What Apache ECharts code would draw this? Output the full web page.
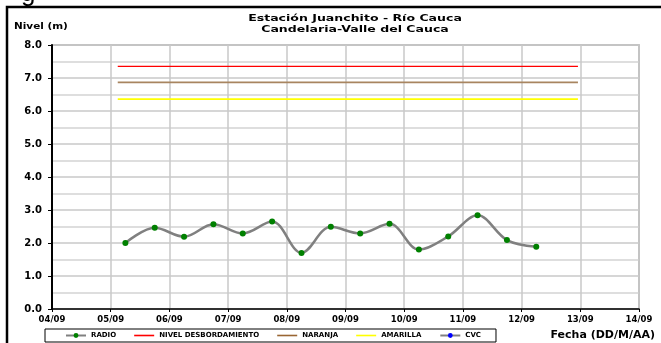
<!DOCTYPE html>
<html><head><meta charset="utf-8">
<script src="https://cdn.jsdelivr.net/npm/echarts@6/dist/echarts.min.js"></script>
<style>html,body{margin:0;padding:0;background:#fff}#c{width:661px;height:343px}</style>
</head><body><div id="c"></div>
<script>
// x positions are day-of-month (September), fractions are time of day
var radioDays = [5.25, 5.75, 6.25, 6.75, 7.25, 7.75, 8.25, 8.75, 9.25, 9.75, 10.25, 10.75, 11.25, 11.75, 12.25];
var radioLevels = [2.0, 2.46, 2.19, 2.57, 2.29, 2.65, 1.70, 2.49, 2.29, 2.58, 1.80, 2.20, 2.84, 2.09, 1.89];
var thresholdSpan = [5.12, 12.96];
var nivelDesbordamiento = 7.35;
var naranja = 6.87;
var amarilla = 6.36;
var cvcDays = [];
var cvcLevels = [];
var xTicksMin = 4, xTicksMax = 14;
var yTicksMin = 0, yTicksMax = 8;
var titleLines = ['Estación Juanchito - Río Cauca', 'Candelaria-Valle del Cauca'];
var legendNames = ['RADIO','NIVEL DESBORDAMIENTO','NARANJA','AMARILLA','CVC'];

function pairs(xs, ys){ return xs.map(function(x,i){ return [x, ys[i]]; }); }
function flat(v){ return thresholdSpan.map(function(x){ return [x, v]; }); }
function pad(n){ n = Math.round(n); return (n<10?'0':'')+n; }

var F = 'DejaVu Sans';
var lineIcon = 'path://M0,0 L20,0 L20,1.6 L0,1.6 Z';
var chart = echarts.init(document.getElementById('c'), null, {renderer:'canvas'});
chart.setOption({
  animation:false,
  backgroundColor:'#fff',
  graphic:[
    {type:'rect', shape:{x:7,y:7,width:700,height:400}, style:{fill:'none', stroke:'#000', lineWidth:2.5}, z:-1},
    {type:'text', x:355, y:14, scaleX:1.32, style:{text:titleLines[0], font:'bold 9.5px "DejaVu Sans"', fill:'#000', textAlign:'center', textVerticalAlign:'top'}},
    {type:'text', x:355, y:25, scaleX:1.32, style:{text:titleLines[1], font:'bold 9.5px "DejaVu Sans"', fill:'#000', textAlign:'center', textVerticalAlign:'top'}},
    {type:'text', x:14, y:22, scaleX:1.1, style:{text:'Nivel (m)', font:'bold 9.5px "DejaVu Sans"', fill:'#000', textVerticalAlign:'top'}},
    {type:'text', right:6, top:330, style:{text:'Fecha (DD/M/AA)', font:'bold 11px "DejaVu Sans"', fill:'#000'}},
    {type:'text', x:21, y:-19, style:{text:'g', font:'26px "Liberation Sans"', fill:'#000', textVerticalAlign:'top'}}
  ],
  grid:{left:52, right:22, top:45, bottom:34, show:true, borderColor:'#a0a0a0', borderWidth:1.5, backgroundColor:'#fff'},
  legend:{
    left:45, top:329, padding:[3,15,3,20],
    borderColor:'#000', borderWidth:1, itemGap:18, itemWidth:20, itemHeight:6,
    textStyle:{fontFamily:F, fontWeight:'bold', fontSize:7, color:'#000'},
    data:[
      {name:legendNames[0]},
      {name:legendNames[1], icon:lineIcon},
      {name:legendNames[2], icon:lineIcon},
      {name:legendNames[3], icon:lineIcon},
      {name:legendNames[4]}
    ]
  },
  xAxis:{
    type:'value', min:xTicksMin, max:xTicksMax, interval:1,
    axisLine:{show:true, onZero:false, lineStyle:{color:'#000', width:1.5}},
    axisTick:{show:true, length:3, lineStyle:{color:'#000'}},
    axisLabel:{fontFamily:F, fontWeight:'bold', fontSize:8.5, color:'#000', margin:6,
      formatter:function(v){ return pad(v)+'/09'; }},
    splitLine:{show:true, lineStyle:{color:'#c8c8c8', width:1.5}}
  },
  yAxis:{
    type:'value', min:yTicksMin, max:yTicksMax, interval:1,
    axisLine:{show:true, lineStyle:{color:'#000', width:2}},
    axisTick:{show:true, length:4, lineStyle:{color:'#000'}},
    axisLabel:{fontFamily:F, fontWeight:'bold', fontSize:10, color:'#000', margin:10,
      formatter:function(v){ return v.toFixed(1); }},
    splitLine:{show:true, lineStyle:{color:'#c8c8c8', width:1.5}},
    minorTick:{show:false, splitNumber:2},
    minorSplitLine:{show:true, lineStyle:{color:'#d4d4d4', width:1.5}}
  },
  series:[
    {name:legendNames[0], type:'line', data:pairs(radioDays, radioLevels), smooth:0.35,
      symbol:'circle', symbolSize:6, showSymbol:true,
      lineStyle:{color:'#808080', width:2.5}, itemStyle:{color:'#008000', borderWidth:0}, z:5},
    {name:legendNames[1], type:'line', data:flat(nivelDesbordamiento), symbol:'none',
      lineStyle:{color:'#ff0000', width:1.2}, itemStyle:{color:'#ff0000'}},
    {name:legendNames[2], type:'line', data:flat(naranja), symbol:'none',
      lineStyle:{color:'#a88560', width:1.8}, itemStyle:{color:'#996633'}},
    {name:legendNames[3], type:'line', data:flat(amarilla), symbol:'none',
      lineStyle:{color:'#ffff00', width:1.8}, itemStyle:{color:'#ffff00'}},
    {name:legendNames[4], type:'line', data:pairs(cvcDays, cvcLevels), symbol:'circle', symbolSize:5,
      lineStyle:{color:'#808080', width:2}, itemStyle:{color:'#0000ff'}}
  ]
});
</script></body></html>
